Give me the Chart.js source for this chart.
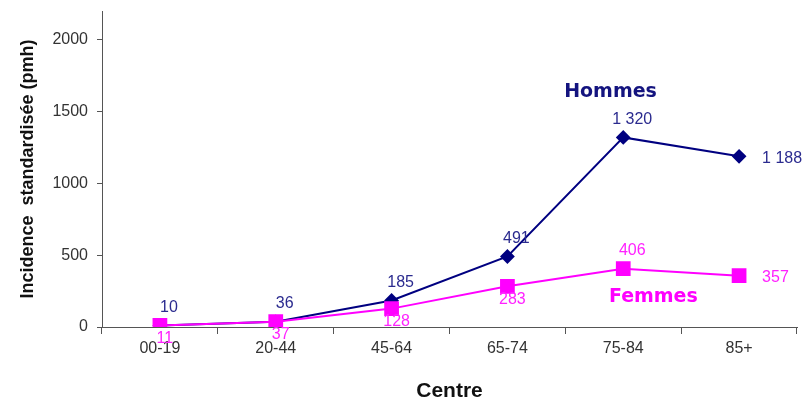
<!DOCTYPE html>
<html>
<head>
<meta charset="utf-8">
<script src="https://cdn.jsdelivr.net/npm/chart.js@4"></script>
<style>
  html, body { margin: 0; padding: 0; background: #fff; }
  #wrap { width: 810px; height: 406px; }
</style>
</head>
<body>
<div id="wrap"><canvas id="c" width="810" height="406"></canvas></div>
<script>
// Age groups and standardised incidence (per million inhabitants)
const categories = ['00-19', '20-44', '45-64', '65-74', '75-84', '85+'];
const hommes = [10, 36, 185, 491, 1320, 1188];
const femmes = [11, 37, 128, 283, 406, 357];
const yTicks = [0, 500, 1000, 1500, 2000];

const NAVY = '#000080';
const NAVY_TXT = '#2b2b8f';
const MAGENTA = '#ff00ff';
const MAGENTA_TXT = '#ff22ff';
const SANS = '"Liberation Sans", Arial, sans-serif';

// formats numbers with a space as thousands separator (French style)
function fmt(v) {
  return String(v).replace(/\B(?=(\d{3})+(?!\d))/g, ' ');
}

// Draws value labels beside each point and the series names inside the plot
const pointLabels = {
  id: 'pointLabels',
  afterDatasetsDraw(chart) {
    const ctx = chart.ctx;
    ctx.save();
    ctx.font = '16px ' + SANS;
    ctx.textBaseline = 'middle';
    chart.data.datasets.forEach((ds, i) => {
      const meta = chart.getDatasetMeta(i);
      meta.data.forEach((pt, j) => {
        const pos = ds.labelPos[j];
        const txt = fmt(ds.data[j]);
        let x = pt.x, y = pt.y;
        ctx.fillStyle = ds.labelColor;
        if (pos === 'right') {
          ctx.textAlign = 'left';
          x += 23; y += 2;
        } else if (pos === 'above') {
          ctx.textAlign = 'center';
          x += 9; y -= 18;
        } else {
          ctx.textAlign = 'center';
          x += 5; y += 13;
        }
        ctx.fillText(txt, x, y);
      });
    });
    // series names
    const xs = chart.scales.x, ys = chart.scales.y;
    ctx.font = 'bold 19px "DejaVu Sans", Verdana, sans-serif';
    ctx.textAlign = 'center';
    ctx.fillStyle = '#14147f';
    ctx.fillText('Hommes', xs.getPixelForValue(3.89), ys.getPixelForValue(1634));
    ctx.fillStyle = MAGENTA;
    ctx.fillText('Femmes', xs.getPixelForValue(4.26), ys.getPixelForValue(207));
    ctx.restore();
  }
};

new Chart(document.getElementById('c'), {
  type: 'line',
  data: {
    labels: categories,
    datasets: [
      {
        label: 'Femmes',
        data: femmes,
        borderColor: MAGENTA,
        backgroundColor: MAGENTA,
        borderWidth: 2,
        pointStyle: 'rect',
        pointRadius: 9,
        pointHoverRadius: 9,
        tension: 0,
        labelColor: MAGENTA_TXT,
        labelPos: ['below', 'below', 'below', 'below', 'above', 'right']
      },
      {
        label: 'Hommes',
        data: hommes,
        borderColor: NAVY,
        backgroundColor: NAVY,
        borderWidth: 2,
        pointStyle: 'rectRot',
        pointRadius: 6,
        pointHoverRadius: 6,
        tension: 0,
        labelColor: NAVY_TXT,
        labelPos: ['above', 'above', 'above', 'above', 'above', 'right']
      }
    ]
  },
  options: {
    responsive: false,
    animation: false,
    layout: { padding: { top: 8, right: 13, bottom: 0, left: 0 } },
    plugins: {
      legend: { display: false },
      tooltip: { enabled: false }
    },
    scales: {
      x: {
        offset: true,
        grid: {
          display: true,
          offset: true,
          drawOnChartArea: false,
          tickLength: 7,
          color: '#555'
        },
        border: { color: '#555', width: 1 },
        ticks: {
          color: '#333',
          font: { size: 16, family: SANS },
          padding: 5
        },
        title: {
          display: true,
          text: 'Centre',
          color: '#111',
          font: { size: 21, weight: 'bold', family: SANS },
          padding: { top: 12, bottom: 2 }
        },
        afterFit(s) { s.height = 79; s.paddingLeft = 0; s.paddingRight = 0; }
      },
      y: {
        min: 0,
        max: 2200,
        afterBuildTicks(s) { s.ticks = yTicks.map(v => ({ value: v })); },
        grid: {
          display: true,
          drawOnChartArea: false,
          tickLength: 5,
          color: '#555'
        },
        border: { color: '#555', width: 1 },
        ticks: {
          color: '#333',
          font: { size: 16, family: SANS },
          padding: 9,
          callback: v => String(v)
        },
        title: {
          display: true,
          text: 'Incidence  standardisée (pmh)',
          color: '#111',
          font: { size: 18, weight: 'bold', family: SANS },
          padding: { top: 17, bottom: 0 }
        },
        afterFit(s) { s.width = 102; s.paddingTop = 0; s.paddingBottom = 0; }
      }
    }
  },
  plugins: [pointLabels]
});
</script>
</body>
</html>
